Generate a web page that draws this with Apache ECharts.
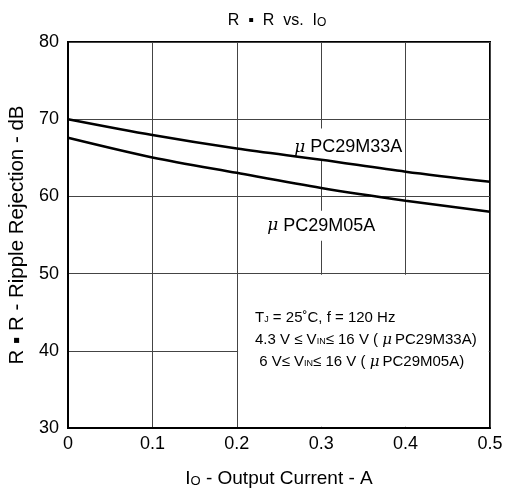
<!DOCTYPE html>
<html><head><meta charset="utf-8">
<script src="https://cdn.jsdelivr.net/npm/echarts@6/dist/echarts.min.js"></script>
<style>html,body{margin:0;padding:0;background:#fff}#c{width:508px;height:490px}</style>
</head><body><div id="c"></div>
<script>
var currents = [0, 0.1, 0.2, 0.3, 0.4, 0.5];
var rr33 = [70.0, 67.95, 66.2, 64.75, 63.2, 61.9];
var rr05 = [67.6, 65.05, 63.05, 61.1, 59.45, 58.0];
var xTicks = [0, 0.1, 0.2, 0.3, 0.4, 0.5];
var yTicks = [30, 40, 50, 60, 70, 80];
var seriesNames = ['PC29M33A', 'PC29M05A'];
var labelPos33 = [0.332, 66.8];
var labelPos05 = [0.300, 56.2];
var notePos = [0.2216, 41.4];

var F = '"Liberation Sans", Arial, sans-serif';
var MU = {fontFamily: '"DejaVu Serif", serif', fontStyle: 'italic', color: '#000'};
function pairs(xs, ys){ return xs.map(function(x,i){ return [x, ys[i]]; }); }
function tagLabel(text, pad){
  return {
    show: true, position: 'inside', formatter: '{mu|\u03bc} ' + text,
    fontFamily: F, fontSize: 18, color: '#000',
    backgroundColor: '#fff', padding: pad,
    rich: {mu: Object.assign({fontSize: 17}, MU)}
  };
}
var chart = echarts.init(document.getElementById('c'), null, {renderer: 'canvas'});
chart.setOption({
  backgroundColor: '#fff',
  animation: false,
  title: {
    text: 'R  \u25aa  R  vs.  I{s|O}', left: 272, top: 8, textAlign: 'center',
    textStyle: {fontFamily: F, fontSize: 16, fontWeight: 'normal', color: '#000',
      rich: {s: {fontFamily: F, fontSize: 12, color: '#000', padding: [4,0,0,0]}}}
  },
  grid: {left: 68, right: 18, top: 42, bottom: 62, show: true, borderColor: '#000', borderWidth: 2,
    containLabel: false, outerBoundsMode: 'none'},
  xAxis: {
    type: 'value', min: 0, max: 0.5, interval: 0.1,
    name: 'I{s|O} - Output Current - A', nameLocation: 'middle', nameGap: 41,
    nameTextStyle: {fontFamily: F, fontSize: 19, color: '#000',
      rich: {s: {fontFamily: F, fontSize: 13, color: '#000', padding: [5,0,0,0]}}},
    axisLine: {lineStyle: {color: '#000', width: 2}},
    axisTick: {show: false},
    axisLabel: {fontFamily: F, fontSize: 18, color: '#000', margin: 7,
      formatter: function(v){ var r = Math.round(v*10)/10; return xTicks.indexOf(r) >= 0 ? String(r) : ''; }},
    splitLine: {show: true, lineStyle: {color: '#444', width: 1}}
  },
  yAxis: {
    type: 'value', min: 30, max: 80, interval: 10,
    name: 'R \u25aa R - Ripple Rejection - dB', nameLocation: 'middle', nameGap: 40,
    nameTextStyle: {fontFamily: F, fontSize: 20.5, color: '#000'},
    axisLine: {show: true, lineStyle: {color: '#000', width: 2}},
    axisTick: {show: false},
    axisLabel: {fontFamily: F, fontSize: 18, color: '#000', margin: 9,
      formatter: function(v){ return yTicks.indexOf(v) >= 0 ? String(v) : ''; }},
    splitLine: {show: true, lineStyle: {color: '#444', width: 1}}
  },
  series: [
    {
      name: 'marks', type: 'line', data: [], z: 1, silent: true,
      markArea: {
        silent: true, z: 1, itemStyle: {color: '#fff'},
        data: [[{coord: [0.2015, 49.85]}, {coord: [0.4985, 30.15]}]]
      },
      markPoint: {
        z: 1, silent: true,
        symbol: 'rect', symbolSize: 1, itemStyle: {color: 'rgba(0,0,0,0)'},
        data: [
          {coord: labelPos33, label: tagLabel(seriesNames[0], [10, 2, 3, 2])},
          {coord: labelPos05, label: tagLabel(seriesNames[1], [6, 2, 6, 2])},
          {coord: notePos, label: {
            show: true, position: 'inside', align: 'left', fontFamily: F, fontSize: 15, color: '#000', lineHeight: 22,
            formatter: 'T{s|J} = 25\u02daC, f = 120 Hz\n4.3 V \u2264 V{s|IN}\u2264 16 V ( {mu|\u03bc}PC29M33A)\n 6 V\u2264 V{s|IN}\u2264 16 V ( {mu|\u03bc}PC29M05A)',
            rich: {s: {fontFamily: F, fontSize: 9, color: '#000', lineHeight: 22, padding: [3,0,0,0]},
                   mu: Object.assign({fontSize: 15, lineHeight: 22, padding: [0,3,0,0]}, MU)}
          }}
        ]
      }
    },
    {
      name: seriesNames[0], type: 'line', data: pairs(currents, rr33), smooth: 0.3,
      symbol: 'none', lineStyle: {color: '#000', width: 2.5}, z: 3
    },
    {
      name: seriesNames[1], type: 'line', data: pairs(currents, rr05), smooth: 0.3,
      symbol: 'none', lineStyle: {color: '#000', width: 2.5}, z: 3
    }
  ]
});
</script></body></html>
